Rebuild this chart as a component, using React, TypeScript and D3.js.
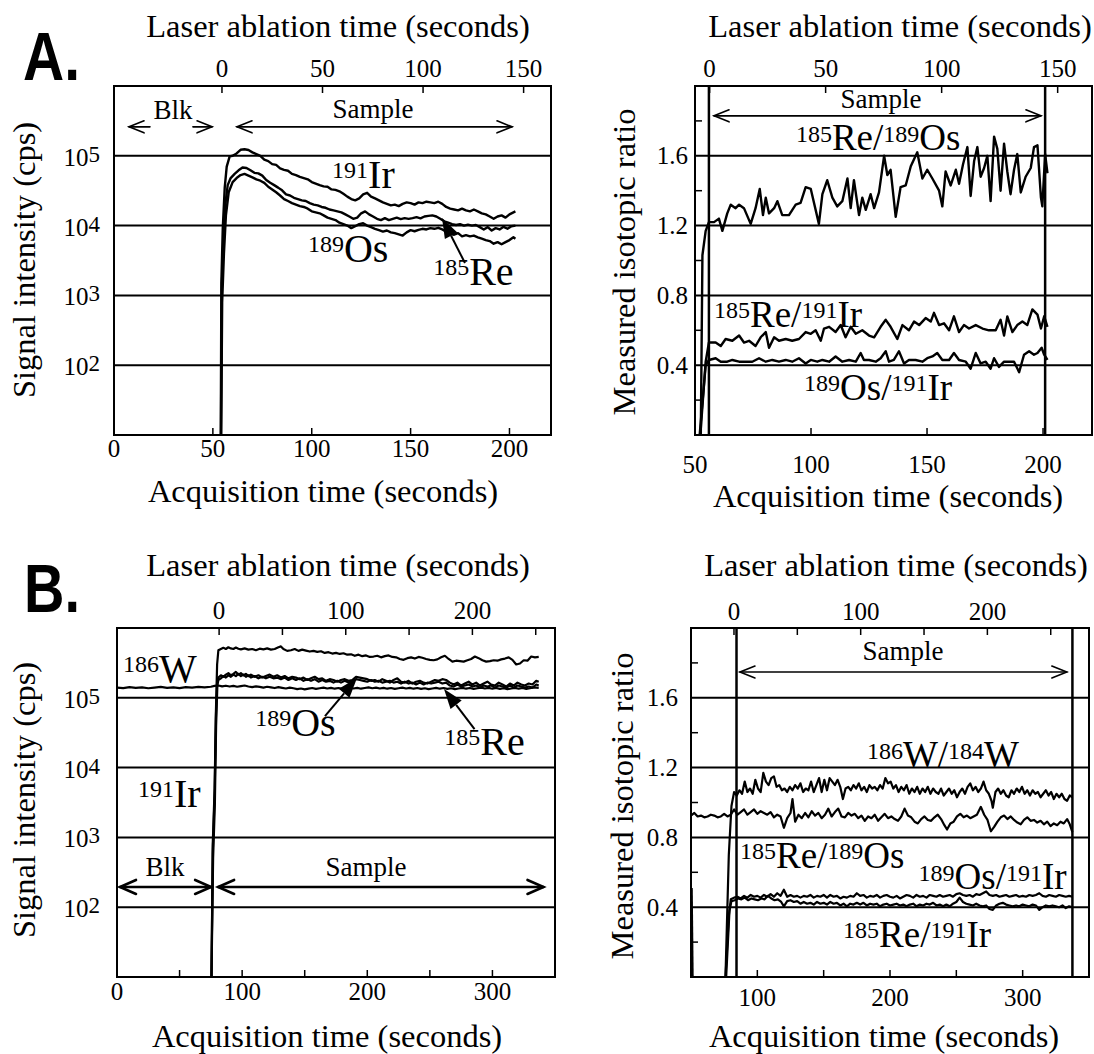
import React from "react";
import * as d3 from "d3";

type Pt = [number, number];

const FONT = '"Liberation Serif", "Times New Roman", Times, serif';
const SANS = '"Liberation Sans", Arial, Helvetica, sans-serif';

// ---------- Panel A, signal intensity (acquisition s, cps) ----------
const irA: Pt[] = [[54.0,10],[54.3,1500],[55.0,9000],[56.0,35000],[57.0,70000],[58.5,98000],[60,100000],[62,108000],[64,122000],[66,124000],[68,121000],[70,112000],[72,106000],[74,100000],[76,88000],[78,84000],[80,76000],[82,74000],[84,66000],[86,63000],[88,61000],[90,55000],[92,53000],[94,50000],[96,48000],[98,46000],[100,42000],[102,40000],[104,38000],[106,36500],[108,36000],[110,33000],[112,32500],[114,31000],[116,28500],[118,26000],[120,24000],[122,23000],[124,24500],[126,28000],[128,29500],[130,26000],[132,24500],[134,23000],[136,21500],[138,20500],[140,19500],[142,20000],[144,19000],[146,20500],[148,21500],[150,21000],[152,20000],[154,21500],[156,21000],[158,22000],[160,21500],[162,21000],[164,22000],[166,20500],[168,18500],[170,17500],[172,17000],[174,16500],[176,17500],[178,16500],[180,16000],[182,17000],[184,16000],[186,15000],[188,14500],[190,13500],[192,12500],[194,13500],[196,14000],[198,13000],[200,14500],[202,15500],[203,16000]];
const reA: Pt[] = [[54.1,10],[54.5,1200],[55.3,6000],[56.3,20000],[57.5,38000],[59,48000],[61,55000],[63,62000],[65,68000],[67,67000],[69,62000],[71,57000],[73,56000],[75,52000],[77,45000],[79,41000],[81,38000],[83,35000],[85,32000],[87,28000],[89,27000],[91,25000],[93,24000],[95,23000],[97,22500],[99,21000],[101,20000],[103,19500],[105,18500],[107,18000],[109,17000],[111,16500],[113,16000],[115,15500],[117,14500],[119,13500],[121,12500],[123,13000],[125,15000],[127,16000],[129,14500],[131,13500],[133,12500],[135,12000],[137,12800],[139,12000],[141,12500],[143,13000],[145,12400],[147,12800],[149,12500],[151,12800],[153,13200],[155,12700],[157,13500],[159,13800],[161,14000],[163,13500],[165,12500],[167,11500],[169,11000],[171,10500],[173,10200],[175,10500],[177,10000],[179,10300],[181,10000],[183,10200],[185,9500],[187,8800],[189,9500],[191,8500],[193,9200],[195,8800],[197,9600],[199,9000],[201,9800],[203,10000]];
const osA: Pt[] = [[54.2,10],[54.7,800],[55.6,4000],[56.6,14000],[58,30000],[60,42000],[62,48000],[64,53000],[66,55000],[68,52000],[70,49000],[72,46000],[74,44000],[76,41000],[78,36000],[80,33000],[82,30000],[84,27000],[86,24000],[88,22500],[90,21000],[92,20000],[94,19000],[96,18500],[98,17500],[100,16000],[102,15500],[104,15000],[106,14000],[108,13000],[110,12500],[112,12000],[114,11000],[116,10500],[118,10000],[120,9200],[122,9800],[124,10500],[126,10800],[128,10000],[130,9500],[132,9000],[134,8600],[136,8200],[138,8500],[140,8000],[142,7800],[144,7500],[146,7200],[148,8000],[150,8600],[152,8300],[154,8700],[156,9000],[158,8800],[160,9200],[162,9000],[164,9300],[166,8800],[168,8200],[170,7600],[172,7400],[174,7800],[176,7000],[178,7300],[180,7000],[182,7200],[184,6800],[186,6500],[188,6200],[190,6000],[192,5500],[194,5800],[196,5400],[198,5800],[200,6200],[202,6800],[203,6500]];

// ---------- Panel A, isotopic ratios ----------
const reOsA: Pt[] = [[52.5,0],[53.2,1.03],[54.6,1.17],[56.0,1.22],[58.2,1.22],[60.3,1.24],[61.8,1.17],[63.9,1.27],[65.4,1.32],[67.5,1.30],[69.0,1.32],[71.1,1.30],[74.0,1.21],[76.1,1.30],[77.9,1.41],[79.3,1.26],[80.5,1.36],[81.9,1.27],[84.1,1.30],[85.5,1.34],[87.6,1.26],[90.5,1.26],[93.4,1.32],[95.5,1.33],[97.7,1.42],[99.9,1.41],[103.4,1.21],[104.9,1.38],[107.0,1.46],[109.2,1.36],[111.3,1.31],[113.5,1.34],[115.7,1.47],[117.1,1.30],[118.5,1.46],[120.7,1.26],[122.1,1.36],[123.6,1.29],[125.7,1.38],[127.2,1.30],[129.3,1.39],[131.5,1.60],[132.9,1.49],[134.3,1.52],[136.5,1.25],[138.6,1.42],[140.8,1.43],[143.0,1.54],[145.8,1.62],[148.0,1.47],[150.1,1.52],[152.3,1.47],[155.2,1.40],[156.6,1.31],[158.0,1.51],[160.2,1.43],[162.4,1.52],[163.8,1.44],[165.5,1.55],[167.4,1.65],[168.8,1.37],[170.3,1.57],[171.7,1.65],[173.1,1.48],[174.6,1.53],[176.0,1.60],[177.4,1.34],[178.9,1.71],[180.3,1.64],[181.7,1.40],[183.2,1.67],[184.6,1.51],[186.0,1.38],[187.5,1.52],[188.9,1.61],[190.4,1.39],[192.5,1.48],[194.7,1.53],[196.1,1.65],[197.6,1.66],[199.1,1.36],[199.7,1.31],[200.9,1.61],[201.9,1.50]];
const reIrA: Pt[] = [[52.3,0],[54.6,0.42],[56.0,0.53],[58.9,0.53],[61.1,0.51],[63.2,0.55],[66.1,0.54],[69.0,0.57],[71.1,0.53],[73.3,0.54],[76.1,0.51],[78.3,0.56],[80.5,0.59],[81.9,0.50],[84.1,0.56],[86.2,0.54],[89.1,0.55],[91.9,0.54],[94.8,0.55],[97.7,0.59],[99.9,0.58],[102.0,0.60],[104.2,0.54],[105.6,0.61],[107.8,0.62],[110.6,0.59],[112.8,0.63],[114.9,0.56],[117.1,0.62],[119.3,0.58],[122.1,0.60],[125.0,0.57],[127.2,0.56],[130.0,0.62],[132.2,0.66],[134.3,0.62],[137.2,0.55],[139.4,0.63],[142.2,0.60],[144.4,0.65],[146.6,0.63],[149.4,0.67],[151.6,0.65],[153.0,0.70],[155.2,0.63],[157.3,0.64],[159.5,0.60],[161.6,0.68],[163.8,0.59],[165.9,0.63],[168.1,0.61],[171.0,0.63],[173.9,0.61],[176.7,0.60],[179.6,0.60],[181.7,0.66],[183.2,0.57],[184.6,0.68],[186.8,0.59],[188.9,0.63],[191.1,0.65],[193.2,0.63],[195.4,0.72],[197.6,0.69],[199.1,0.61],[200.5,0.68],[201.9,0.62]];
const osIrA: Pt[] = [[52.0,0],[54.6,0.40],[56.0,0.43],[58.9,0.44],[61.1,0.42],[63.9,0.42],[66.1,0.43],[69.0,0.42],[71.8,0.42],[74.7,0.42],[77.6,0.44],[80.5,0.42],[83.3,0.43],[86.2,0.42],[89.1,0.43],[91.9,0.42],[94.8,0.44],[97.7,0.41],[99.9,0.43],[102.7,0.42],[104.9,0.43],[107.8,0.42],[110.6,0.45],[113.5,0.42],[116.4,0.43],[119.3,0.42],[121.4,0.47],[122.8,0.43],[125.0,0.43],[127.9,0.42],[130.0,0.44],[132.2,0.48],[133.6,0.42],[135.7,0.43],[137.9,0.48],[140.1,0.41],[142.2,0.43],[145.1,0.43],[148.0,0.42],[150.1,0.44],[152.3,0.45],[154.4,0.47],[156.6,0.43],[159.5,0.43],[161.6,0.47],[163.8,0.43],[166.7,0.42],[168.8,0.38],[171.0,0.47],[173.1,0.41],[175.3,0.42],[177.4,0.38],[178.9,0.44],[181.0,0.39],[183.2,0.42],[185.3,0.42],[187.5,0.42],[189.7,0.36],[191.8,0.46],[194.0,0.48],[196.1,0.46],[197.6,0.47],[199.4,0.50],[200.5,0.46],[201.9,0.43]];
const sampleWindowA = [56.0, 200.9];

// ---------- Panel B, signal intensity ----------
const irB: Pt[] = [[75.5,10],[76.5,800],[78,5000],[79,60000],[80,300000],[81,480000],[83,500000],[85,520000],[87,500000],[89,530000],[91,510000],[93,500000],[95,525000],[97,505000],[99,495000],[102,510000],[105,490000],[108,500000],[111,480000],[114,505000],[117,495000],[120,510000],[123,490000],[126,500000],[129,530000],[131,545000],[133,500000],[136,470000],[139,480000],[142,500000],[145,470000],[148,490000],[151,475000],[154,460000],[157,470000],[160,455000],[163,465000],[166,440000],[169,450000],[172,430000],[175,440000],[178,425000],[181,435000],[184,415000],[187,420000],[190,400000],[193,415000],[196,395000],[199,405000],[202,385000],[205,390000],[208,400000],[211,380000],[214,395000],[217,405000],[220,385000],[223,380000],[226,360000],[229,350000],[232,370000],[235,380000],[238,365000],[241,385000],[244,375000],[247,360000],[250,350000],[253,345000],[256,355000],[259,380000],[262,400000],[265,360000],[268,330000],[271,340000],[274,335000],[277,330000],[280,345000],[283,360000],[286,390000],[289,370000],[292,345000],[295,330000],[298,335000],[301,345000],[304,340000],[307,355000],[310,365000],[313,380000],[316,350000],[319,300000],[322,310000],[325,345000],[328,340000],[331,390000],[334,380000],[337,385000]];
const osB: Pt[] = [[75.5,10],[76.5,600],[78,4000],[79,50000],[80,170000],[81,195000],[83,210000],[85,200000],[87,215000],[89,225000],[91,210000],[93,220000],[95,235000],[97,215000],[99,225000],[101,210000],[103,220000],[105,205000],[107,215000],[110,200000],[113,210000],[116,195000],[119,205000],[122,215000],[125,200000],[128,210000],[131,195000],[134,205000],[137,190000],[140,200000],[143,195000],[146,185000],[149,195000],[152,180000],[155,190000],[158,200000],[161,185000],[164,190000],[167,175000],[170,185000],[173,180000],[176,170000],[179,180000],[182,185000],[185,175000],[188,180000],[191,200000],[194,195000],[197,190000],[200,185000],[203,175000],[206,180000],[209,170000],[212,185000],[215,175000],[218,165000],[221,180000],[224,190000],[227,170000],[230,165000],[233,175000],[236,160000],[239,170000],[242,175000],[245,165000],[248,160000],[251,170000],[254,180000],[257,175000],[260,185000],[263,180000],[266,165000],[269,155000],[272,165000],[275,150000],[278,160000],[281,170000],[284,155000],[287,165000],[290,150000],[293,160000],[296,170000],[299,155000],[302,150000],[305,165000],[308,155000],[311,145000],[314,160000],[317,150000],[320,165000],[323,155000],[326,150000],[329,160000],[332,155000],[335,175000],[337,170000]];
const reB: Pt[] = [[75.5,10],[76.8,500],[78.2,3000],[79.2,40000],[80.2,150000],[81,180000],[83,190000],[85,205000],[87,195000],[89,210000],[91,200000],[93,215000],[95,205000],[97,220000],[99,205000],[101,215000],[103,200000],[105,210000],[107,195000],[110,205000],[113,190000],[116,200000],[119,190000],[122,200000],[125,190000],[128,195000],[131,185000],[134,195000],[137,180000],[140,190000],[143,180000],[146,190000],[149,175000],[152,185000],[155,175000],[158,185000],[161,170000],[164,180000],[167,170000],[170,175000],[173,165000],[176,175000],[179,165000],[182,175000],[185,165000],[188,175000],[191,185000],[194,180000],[197,175000],[200,170000],[203,180000],[206,170000],[209,175000],[212,165000],[215,170000],[218,175000],[221,165000],[224,170000],[227,160000],[230,170000],[233,160000],[236,165000],[239,155000],[242,165000],[245,155000],[248,165000],[251,160000],[254,165000],[257,170000],[260,160000],[263,165000],[266,150000],[269,145000],[272,155000],[275,145000],[278,150000],[281,155000],[284,145000],[287,150000],[290,140000],[293,150000],[296,145000],[299,150000],[302,140000],[305,150000],[308,145000],[311,140000],[314,150000],[317,140000],[320,150000],[323,145000],[326,140000],[329,145000],[332,140000],[335,155000],[337,150000]];
const wB: Pt[] = [[0,140000],[5,138000],[10,142000],[15,139000],[20,141000],[25,137000],[30,140000],[35,143000],[40,139000],[45,141000],[50,138000],[55,142000],[60,140000],[65,143000],[70,141000],[75,144000],[78,148000],[81,150000],[84,146000],[87,149000],[90,145000],[93,148000],[96,144000],[99,147000],[102,150000],[105,145000],[108,142000],[111,146000],[114,143000],[117,140000],[120,144000],[123,141000],[126,138000],[129,142000],[132,139000],[135,136000],[138,140000],[141,137000],[144,133000],[147,136000],[150,132000],[153,135000],[156,138000],[159,134000],[162,137000],[165,140000],[168,136000],[171,139000],[174,135000],[177,138000],[180,134000],[183,137000],[186,140000],[189,136000],[192,139000],[195,135000],[198,138000],[201,141000],[204,137000],[207,140000],[210,136000],[213,139000],[216,135000],[219,138000],[222,134000],[225,137000],[228,140000],[231,136000],[234,139000],[237,135000],[240,138000],[243,134000],[246,137000],[249,133000],[252,136000],[255,139000],[258,135000],[261,138000],[264,134000],[267,137000],[270,133000],[273,136000],[276,139000],[279,135000],[282,138000],[285,134000],[288,137000],[291,140000],[294,136000],[297,139000],[300,135000],[303,138000],[306,134000],[309,137000],[312,133000],[315,136000],[318,139000],[321,135000],[324,138000],[327,134000],[330,137000],[333,141000],[337,139000]];

// ---------- Panel B, isotopic ratios ----------
const wwB: Pt[] = [[76,0],[78.5,0.70],[80.5,0.98],[82.5,1.06],[84.5,1.04],[86.5,1.07],[88.5,1.05],[90.5,1.12],[92.5,1.06],[94.5,1.08],[96.5,1.05],[98.5,1.13],[100.5,1.08],[102.5,1.06],[104.5,1.17],[106.5,1.12],[108.5,1.10],[110.5,1.14],[112.5,1.15],[114.5,1.09],[116.5,1.10],[118.5,1.07],[120.5,1.08],[122.5,1.06],[124.5,1.09],[126.5,1.07],[128.5,1.10],[130.5,1.08],[132.5,1.11],[134.5,1.06],[136.5,1.08],[138.5,1.07],[140.5,1.12],[142.5,1.06],[144.5,1.10],[146.5,1.14],[148.5,1.06],[150.5,1.13],[152.5,1.07],[154.5,1.14],[156.5,1.12],[158.5,1.10],[160.5,1.13],[162.5,1.09],[164.5,1.02],[166.5,1.08],[168.5,1.09],[170.5,1.07],[172.5,1.10],[174.5,1.08],[176.5,1.11],[178.5,1.07],[180.5,1.09],[182.5,1.06],[184.5,1.10],[186.5,1.08],[188.5,1.09],[190.5,1.07],[192.5,1.10],[194.5,1.08],[196.5,1.14],[198.5,1.11],[200.5,1.12],[202.5,1.08],[204.5,1.10],[206.5,1.06],[208.5,1.09],[210.5,1.07],[212.5,1.10],[214.5,1.05],[216.5,1.08],[218.5,1.06],[220.5,1.09],[222.5,1.05],[224.5,1.08],[226.5,1.06],[228.5,1.09],[230.5,1.05],[232.5,1.08],[234.5,1.06],[236.5,1.05],[238.5,1.08],[240.5,1.04],[242.5,1.06],[244.5,1.08],[246.5,1.05],[248.5,1.07],[250.5,1.03],[252.5,1.06],[254.5,1.08],[256.5,1.05],[258.5,1.09],[260.5,1.11],[262.5,1.07],[264.5,1.09],[266.5,1.06],[268.5,1.08],[270.5,1.12],[272.5,1.07],[274.5,1.05],[276.5,1.01],[277.5,0.97],[279.5,1.06],[281.5,1.08],[283.5,1.05],[285.5,1.07],[287.5,1.04],[289.5,1.03],[291.5,1.07],[293.5,1.05],[295.5,1.08],[297.5,1.06],[299.5,1.09],[301.5,1.05],[303.5,1.07],[305.5,1.04],[307.5,1.07],[309.5,1.05],[311.5,1.06],[313.5,1.03],[315.5,1.05],[317.5,1.07],[319.5,1.04],[321.5,1.06],[323.5,1.02],[325.5,1.05],[327.5,1.03],[329.5,1.05],[331.5,1.02],[333.5,1.01],[335.5,1.04],[337.5,1.03]];
const reOsB: Pt[] = [[50,0.925],[52.5,0.94],[55,0.92],[57.5,0.925],[60,0.915],[62.5,0.92],[65,0.93],[67.5,0.925],[70,0.915],[72.5,0.92],[75,0.935],[77.5,0.92],[80,0.93],[82.5,0.96],[85,0.93],[87.5,0.945],[90,0.96],[92.5,0.93],[95,0.945],[97.5,0.96],[100,0.935],[102.5,0.95],[105,0.94],[107.5,0.93],[110,0.945],[112.5,0.915],[115,0.93],[117.5,0.92],[120,0.855],[122.5,0.91],[125,0.94],[126.5,1.02],[128.5,0.89],[131,0.93],[133.5,0.91],[136,0.94],[138.5,0.915],[141,0.95],[143.5,0.925],[146,0.94],[148.5,0.91],[151,0.93],[153.5,0.965],[156,0.92],[158.5,0.945],[161,0.965],[163.5,0.92],[166,0.915],[168.5,0.94],[171,0.925],[173.5,0.935],[176,0.91],[178.5,0.925],[181,0.895],[183.5,0.92],[186,0.91],[188.5,0.93],[191,0.895],[193.5,0.915],[196,0.935],[198.5,0.91],[201,0.92],[203.5,0.905],[206,0.895],[208.5,0.92],[211,0.965],[213.5,0.925],[216,0.915],[218.5,0.89],[221,0.88],[223.5,0.905],[226,0.92],[228.5,0.9],[231,0.895],[233.5,0.915],[236,0.93],[238.5,0.905],[241,0.87],[243,0.845],[245.5,0.88],[248,0.89],[250.5,0.92],[253,0.935],[255.5,0.915],[258,0.925],[260.5,0.91],[263,0.92],[265.5,0.93],[268.5,0.975],[271,0.93],[273.5,0.9],[276,0.835],[278.5,0.86],[281,0.89],[283.5,0.915],[286,0.925],[288.5,0.905],[291,0.92],[293.5,0.9],[296,0.885],[298.5,0.875],[301,0.9],[303.5,0.915],[306,0.895],[308.5,0.9],[311,0.885],[313.5,0.895],[316,0.875],[318.5,0.89],[321,0.865],[323.5,0.88],[326,0.87],[328.5,0.89],[331,0.88],[333.5,0.905],[335.5,0.875],[337.5,0.83]];
const osIrB: Pt[] = [[76,0],[78.5,0.35],[80,0.445],[82.5,0.455],[85,0.46],[87.5,0.45],[90,0.465],[92.5,0.455],[95,0.47],[97.5,0.46],[100,0.465],[102.5,0.455],[105,0.47],[107.5,0.46],[110,0.475],[112.5,0.46],[115,0.48],[117.5,0.465],[120,0.5],[122.5,0.46],[125,0.47],[127.5,0.46],[130,0.465],[132.5,0.455],[135,0.465],[137.5,0.46],[140,0.47],[142.5,0.455],[145,0.465],[147.5,0.46],[150,0.47],[152.5,0.455],[155,0.47],[157.5,0.46],[160,0.465],[162.5,0.45],[165,0.46],[167.5,0.455],[170,0.465],[172.5,0.46],[175,0.48],[177.5,0.465],[180,0.47],[182.5,0.455],[185,0.465],[187.5,0.46],[190,0.47],[192.5,0.455],[195,0.465],[197.5,0.47],[200,0.46],[202.5,0.455],[205,0.465],[207.5,0.45],[210,0.46],[212.5,0.47],[215,0.465],[217.5,0.455],[220,0.47],[222.5,0.46],[225,0.465],[227.5,0.455],[230,0.47],[232.5,0.465],[235,0.46],[237.5,0.47],[240,0.46],[242.5,0.465],[245,0.47],[247.5,0.46],[250,0.475],[252.5,0.48],[255,0.47],[257.5,0.465],[260,0.47],[262.5,0.46],[265,0.475],[267.5,0.47],[270,0.48],[272.5,0.49],[275,0.47],[277.5,0.465],[280,0.47],[282.5,0.46],[285,0.465],[287.5,0.47],[290,0.46],[292.5,0.465],[295,0.47],[297.5,0.46],[300,0.465],[302.5,0.46],[305,0.47],[307.5,0.465],[310,0.47],[312.5,0.48],[315,0.465],[317.5,0.46],[320,0.47],[322.5,0.465],[325,0.46],[327.5,0.47],[330,0.465],[332.5,0.46],[335,0.465],[337.5,0.46]];
const reIrB: Pt[] = [[76.5,0],[79,0.38],[80.5,0.435],[83,0.44],[85.5,0.45],[88,0.445],[90.5,0.455],[93,0.44],[95.5,0.45],[98,0.445],[100.5,0.44],[103,0.45],[105.5,0.445],[108,0.465],[110.5,0.45],[113,0.44],[115.5,0.445],[118,0.43],[120,0.405],[122.5,0.435],[125,0.44],[127.5,0.43],[130,0.435],[132.5,0.42],[135,0.43],[137.5,0.42],[140,0.425],[142.5,0.415],[145,0.43],[147.5,0.42],[150,0.425],[152.5,0.415],[155,0.43],[157.5,0.42],[160,0.425],[162.5,0.41],[165,0.42],[167.5,0.405],[170,0.42],[172.5,0.415],[175,0.425],[177.5,0.415],[180,0.425],[182.5,0.41],[185,0.42],[187.5,0.415],[190,0.42],[192.5,0.405],[195,0.415],[197.5,0.42],[200,0.41],[202.5,0.415],[205,0.42],[207.5,0.41],[210,0.415],[212.5,0.405],[215,0.415],[217.5,0.42],[220,0.405],[222.5,0.415],[225,0.41],[227.5,0.42],[230,0.415],[232.5,0.425],[235,0.41],[237.5,0.415],[240,0.405],[242.5,0.415],[245,0.405],[247.5,0.42],[250,0.43],[252.5,0.455],[255,0.43],[257.5,0.42],[260,0.415],[262.5,0.41],[265,0.42],[267.5,0.41],[270,0.405],[272.5,0.41],[275,0.39],[277.5,0.385],[280,0.41],[282.5,0.42],[285,0.425],[287.5,0.415],[290,0.41],[292.5,0.405],[295,0.41],[297.5,0.405],[300,0.415],[302.5,0.41],[305,0.405],[307.5,0.415],[310,0.41],[312.5,0.385],[315,0.4],[317.5,0.41],[320,0.405],[322.5,0.41],[325,0.405],[327.5,0.4],[330,0.41],[332.5,0.395],[335,0.405],[337.5,0.4]];
const blankDropB: Pt[] = [[50.5,0.51],[51.2,0]];
const sampleWindowB = [84.3, 337.5];

// ---------- axis ticks ----------
const intensityGrid = [1e2, 1e3, 1e4, 1e5];
const ratioGrid = [0.4, 0.8, 1.2, 1.6];
const ratioMinor = [0.2, 0.6, 1.0, 1.4, 1.8];

// ---------- layout ----------
type Spec = { left: number; right: number; top: number; bottom: number; xDomain: [number, number]; log: boolean; ablStart: number; ablRate: number };
const AL: Spec = { left: 114, right: 551, top: 86, bottom: 435, xDomain: [0, 221], log: true, ablStart: 54.6, ablRate: 1.017 };
const AR: Spec = { left: 695, right: 1092, top: 86, bottom: 435, xDomain: [50, 221.1], log: false, ablStart: 56.3, ablRate: 1.0 };
const BL: Spec = { left: 117, right: 555, top: 628, bottom: 977, xDomain: [0, 350], log: true, ablStart: 81.6, ablRate: 1.012 };
const BR: Spec = { left: 691, right: 1089, top: 628, bottom: 977, xDomain: [50, 350], log: false, ablStart: 82.4, ablRate: 0.955 };

function scales(p: Spec) {
  const x = d3.scaleLinear().domain(p.xDomain).range([p.left, p.right]);
  const y: any = p.log
    ? d3.scaleLog().domain([10, 1e6]).range([p.bottom, p.top])
    : d3.scaleLinear().domain([0, 2]).range([p.bottom, p.top]);
  const xTop = d3.scaleLinear().domain([0, 100]).range([x(p.ablStart), x(p.ablStart + 100 * p.ablRate)]);
  return { x, y, xTop };
}

const TICK = 7;

function Axes({ p, s, o }: any) {
  const { x, y, xTop } = s;
  return (
    <g fontFamily={FONT} fill="#000">
      {o.grid.map((v: number) => (
        <line key={"g" + v} x1={p.left} x2={p.right} y1={y(v)} y2={y(v)} stroke="#000" strokeWidth={2} />
      ))}
      {o.bottomTicks.map((v: number) => (
        <line key={"b" + v} x1={x(v)} x2={x(v)} y1={p.bottom} y2={p.bottom - TICK} stroke="#000" strokeWidth={1.5} />
      ))}
      {o.topTicks.map((v: number) => (
        <line key={"t" + v} x1={xTop(v)} x2={xTop(v)} y1={p.top} y2={p.top + TICK} stroke="#000" strokeWidth={1.5} />
      ))}
      {(o.leftMinor || []).map((v: number) => (
        <line key={"m" + v} x1={p.left} x2={p.left + TICK} y1={y(v)} y2={y(v)} stroke="#000" strokeWidth={1.5} />
      ))}
      <rect x={p.left} y={p.top} width={p.right - p.left} height={p.bottom - p.top} fill="none" stroke="#000" strokeWidth={2} />
      {o.bottomLabels.map((v: number) => (
        <text key={"bl" + v} x={x(v)} y={o.bottomLabelY} fontSize={25} textAnchor="middle">{v}</text>
      ))}
      {o.topLabels.map((v: number) => (
        <text key={"tl" + v} x={xTop(v)} y={o.topLabelY} fontSize={25} textAnchor="middle">{v}</text>
      ))}
      {o.grid.map((v: number) =>
        p.log ? (
          <text key={"yl" + v} x={o.yLabelRight} y={y(v) + 10} fontSize={25} textAnchor="end">
            10<tspan dy={-4} fontSize={23}>{Math.round(Math.log10(v))}</tspan>
          </text>
        ) : (
          <text key={"yl" + v} x={o.yLabelRight} y={y(v) + 8.5} fontSize={25} textAnchor="end">{d3.format(".1f")(v)}</text>
        )
      )}
      <text x={o.titleTop[0]} y={o.titleTop[1]} fontSize={32.5} textAnchor="middle">Laser ablation time (seconds)</text>
      <text x={o.titleBottom[0]} y={o.titleBottom[1]} fontSize={32.5} textAnchor="middle">Acquisition time (seconds)</text>
      <text transform={`translate(${o.yTitle[0]},${o.yTitle[1]}) rotate(-90)`} fontSize={32.5} textAnchor="middle">{o.yTitle[2]}</text>
    </g>
  );
}

function Curves({ id, p, s, series, sw = 2.4 }: any) {
  const line = d3.line<Pt>().x((d) => s.x(d[0])).y((d) => s.y(d[1]));
  return (
    <g clipPath={`url(#${id})`}>
      <defs>
        <clipPath id={id}>
          <rect x={p.left} y={p.top} width={p.right - p.left} height={p.bottom - p.top} />
        </clipPath>
      </defs>
      {series.map((d: Pt[], i: number) => (
        <path key={i} d={line(d) || ""} fill="none" stroke="#000" strokeWidth={sw} strokeLinejoin="round" />
      ))}
    </g>
  );
}

function IsoLabel({ x, y, parts, F, S, raise }: any) {
  return (
    <text x={x} y={y} fontFamily={FONT} fontSize={F} fill="#000">
      {parts.map((pt: [string, string], i: number) => (
        <React.Fragment key={i}>
          <tspan fontSize={S} dy={-raise}>{pt[0]}</tspan>
          <tspan fontSize={F} dy={raise}>{pt[1]}</tspan>
        </React.Fragment>
      ))}
    </text>
  );
}

function DoubleArrow({ x1, x2, y, gap, sw = 1.6, hl = 15, hw = 6 }: any) {
  const segs = gap ? [[x1, gap[0]], [gap[1], x2]] : [[x1, x2]];
  return (
    <g stroke="#000" strokeWidth={sw} fill="none" strokeLinecap="round">
      {segs.map((sg: number[], i: number) => (
        <line key={i} x1={sg[0]} x2={sg[1]} y1={y} y2={y} />
      ))}
      <path d={`M${x1 + hl},${y - hw}L${x1},${y}L${x1 + hl},${y + hw}`} />
      <path d={`M${x2 - hl},${y - hw}L${x2},${y}L${x2 - hl},${y + hw}`} />
    </g>
  );
}

function Pointer({ x1, y1, x2, y2, len = 20, half = 7 }: any) {
  const a = Math.atan2(y2 - y1, x2 - x1);
  const bx = x2 - len * Math.cos(a);
  const by = y2 - len * Math.sin(a);
  const px = -Math.sin(a) * half;
  const py = Math.cos(a) * half;
  return (
    <g>
      <line x1={x1} y1={y1} x2={bx} y2={by} stroke="#000" strokeWidth={2} />
      <path d={`M${x2},${y2}L${bx + px},${by + py}L${bx - px},${by - py}Z`} fill="#000" />
    </g>
  );
}

const Txt = ({ x, y, size = 27, children }: any) => (
  <text x={x} y={y} fontFamily={FONT} fontSize={size} textAnchor="middle" fill="#000">{children}</text>
);

export default function App() {
  const sAL = scales(AL);
  const sAR = scales(AR);
  const sBL = scales(BL);
  const sBR = scales(BR);

  const blkA = sAL.y(2.6e5);
  const blkB = sBL.y(195);
  const RF = 37, RS = 24, RR = 8.5;

  return (
    <svg width={1094} height={1054} style={{ position: "absolute", left: 0, top: 0, background: "#fff" }}>
      <rect width={1094} height={1054} fill="#fff" />

      {/* ---------------- A, left ---------------- */}
      <text x={23} y={80} fontFamily={SANS} fontWeight="bold" fontSize={68} textLength={57} lengthAdjust="spacingAndGlyphs">A.</text>
      <Axes p={AL} s={sAL} o={{
        grid: intensityGrid, bottomTicks: [50, 100, 150, 200], bottomLabels: [0, 50, 100, 150, 200], bottomLabelY: 457,
        topTicks: [0, 50, 100, 150], topLabels: [0, 50, 100, 150], topLabelY: 77, yLabelRight: 100,
        titleTop: [338, 37], titleBottom: [323, 502], yTitle: [35, 260, "Signal intensity (cps)"],
      }} />
      <Curves id="cAL" p={AL} s={sAL} series={[irA, reA, osA]} />
      <DoubleArrow x1={sAL.x(7.6)} x2={sAL.x(49.6)} y={blkA} gap={[sAL.x(18.2), sAL.x(39.9)]} />
      <Txt x={sAL.x(29.8)} y={blkA - 8}>Blk</Txt>
      <DoubleArrow x1={sAL.x(62.2)} x2={sAL.x(201.3)} y={blkA} />
      <Txt x={sAL.x(131)} y={blkA - 9}>Sample</Txt>
      <IsoLabel x={sAL.x(110.3)} y={sAL.y(34600)} parts={[["191", "Ir"]]} F={40} S={24} raise={10} />
      <IsoLabel x={sAL.x(98.1)} y={sAL.y(3000)} parts={[["189", "Os"]]} F={40} S={24} raise={10} />
      <IsoLabel x={sAL.x(161.4)} y={sAL.y(1410)} parts={[["185", "Re"]]} F={40} S={24} raise={10} />
      <Pointer x1={sAL.x(177.5)} y1={sAL.y(2910)} x2={sAL.x(165.9)} y2={sAL.y(12900)} />

      {/* ---------------- A, right ---------------- */}
      <Axes p={AR} s={sAR} o={{
        grid: ratioGrid, bottomTicks: [100, 150, 200], bottomLabels: [50, 100, 150, 200], bottomLabelY: 473,
        topTicks: [0, 50, 100, 150], topLabels: [0, 50, 100, 150], topLabelY: 77, yLabelRight: 688, leftMinor: ratioMinor,
        titleTop: [900, 37], titleBottom: [888, 507], yTitle: [635, 262, "Measured isotopic ratio"],
      }} />
      {sampleWindowA.map((t) => (
        <line key={t} x1={sAR.x(t)} x2={sAR.x(t)} y1={AR.top} y2={AR.bottom} stroke="#000" strokeWidth={2.5} />
      ))}
      <Curves id="cAR" p={AR} s={sAR} series={[reOsA, reIrA, osIrA]} />
      <DoubleArrow x1={sAR.x(58.2)} x2={sAR.x(199.1)} y={sAR.y(1.829)} />
      <Txt x={sAR.x(130.2)} y={sAR.y(1.829) - 8}>Sample</Txt>
      <IsoLabel x={sAR.x(93.5)} y={sAR.y(1.633)} parts={[["185", "Re/"], ["189", "Os"]]} F={RF} S={RS} raise={RR} />
      <IsoLabel x={sAR.x(58.2)} y={sAR.y(0.619)} parts={[["185", "Re/"], ["191", "Ir"]]} F={RF} S={RS} raise={RR} />
      <IsoLabel x={sAR.x(97.0)} y={sAR.y(0.201)} parts={[["189", "Os/"], ["191", "Ir"]]} F={RF} S={RS} raise={RR} />

      {/* ---------------- B, left ---------------- */}
      <text x={24} y={612} fontFamily={SANS} fontWeight="bold" fontSize={68} textLength={56} lengthAdjust="spacingAndGlyphs">B.</text>
      <Axes p={BL} s={sBL} o={{
        grid: intensityGrid, bottomTicks: [50, 100, 150, 200, 250, 300], bottomLabels: [0, 100, 200, 300], bottomLabelY: 1000,
        topTicks: [0, 50, 100, 150, 200, 250], topLabels: [0, 100, 200], topLabelY: 619, yLabelRight: 100,
        titleTop: [338, 576], titleBottom: [327, 1047], yTitle: [35, 800, "Signal intensity (cps)"],
      }} />
      <Curves id="cBL" p={BL} s={sBL} series={[wB, reB, osB, irB]} sw={2.2} />
      <DoubleArrow x1={sBL.x(2.4)} x2={sBL.x(75.2)} y={blkB} sw={2.6} hl={16} hw={7} />
      <Txt x={sBL.x(38.4)} y={blkB - 11}>Blk</Txt>
      <DoubleArrow x1={sBL.x(80.8)} x2={sBL.x(340.8)} y={blkB} sw={2.6} hl={16} hw={7} />
      <Txt x={sBL.x(199)} y={blkB - 11}>Sample</Txt>
      <IsoLabel x={sBL.x(4.8)} y={sBL.y(168000)} parts={[["186", "W"]]} F={40} S={24} raise={10} />
      <IsoLabel x={sBL.x(16.8)} y={sBL.y(2730)} parts={[["191", "Ir"]]} F={40} S={24} raise={10} />
      <IsoLabel x={sBL.x(110.4)} y={sBL.y(28400)} parts={[["189", "Os"]]} F={40} S={24} raise={10} />
      <IsoLabel x={sBL.x(261.6)} y={sBL.y(15200)} parts={[["185", "Re"]]} F={40} S={24} raise={10} />
      <Pointer x1={sBL.x(166.2)} y1={sBL.y(54800)} x2={sBL.x(191.8)} y2={sBL.y(192000)} />
      <Pointer x1={sBL.x(285.7)} y1={sBL.y(35700)} x2={sBL.x(261.3)} y2={sBL.y(134000)} />

      {/* ---------------- B, right ---------------- */}
      <Axes p={BR} s={sBR} o={{
        grid: ratioGrid, bottomTicks: [100, 150, 200, 250, 300], bottomLabels: [100, 200, 300], bottomLabelY: 1006,
        topTicks: [0, 50, 100, 150, 200, 250], topLabels: [0, 100, 200], topLabelY: 620, yLabelRight: 678, leftMinor: ratioMinor,
        titleTop: [896, 576], titleBottom: [884, 1047], yTitle: [633, 806, "Measured isotopic ratio"],
      }} />
      {sampleWindowB.map((t) => (
        <line key={t} x1={sBR.x(t)} x2={sBR.x(t)} y1={BR.top} y2={BR.bottom} stroke="#000" strokeWidth={2.5} />
      ))}
      <Curves id="cBR" p={BR} s={sBR} series={[wwB, reOsB, osIrB, reIrB, blankDropB]} sw={2.2} />
      <DoubleArrow x1={sBR.x(86.9)} x2={sBR.x(333.3)} y={sBR.y(1.748)} />
      <Txt x={sBR.x(209.8)} y={sBR.y(1.748) - 12}>Sample</Txt>
      <IsoLabel x={sBR.x(182.6)} y={sBR.y(1.203)} parts={[["186", "W/"], ["184", "W"]]} F={RF} S={RS} raise={RR} />
      <IsoLabel x={sBR.x(86.9)} y={sBR.y(0.625)} parts={[["185", "Re/"], ["189", "Os"]]} F={RF} S={RS} raise={RR} />
      <IsoLabel x={sBR.x(221.5)} y={sBR.y(0.504)} parts={[["189", "Os/"], ["191", "Ir"]]} F={RF} S={RS} raise={RR} />
      <IsoLabel x={sBR.x(164.6)} y={sBR.y(0.172)} parts={[["185", "Re/"], ["191", "Ir"]]} F={RF} S={RS} raise={RR} />
    </svg>
  );
}
